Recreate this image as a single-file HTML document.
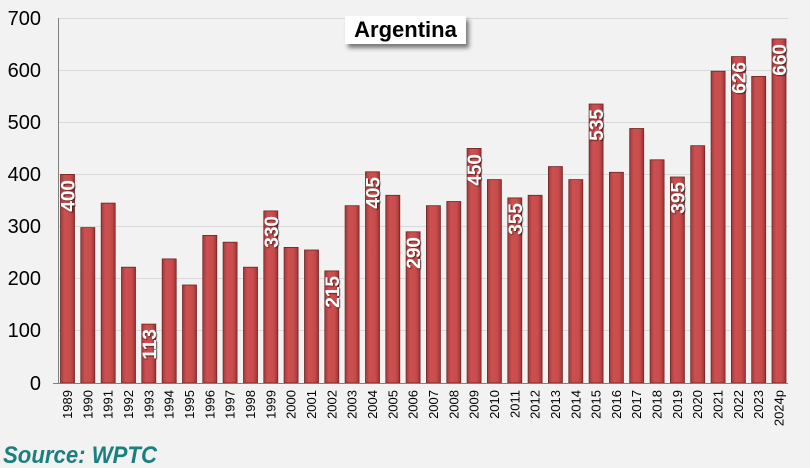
<!DOCTYPE html>
<html><head><style>
html,body{margin:0;padding:0;background:#f2f2f2;}
svg{display:block;font-family:"Liberation Sans",Arial,sans-serif;}
</style></head><body>
<svg width="810" height="468" viewBox="0 0 810 468" xmlns="http://www.w3.org/2000/svg">
<defs>
<linearGradient id="g" x1="0" x2="1" y1="0" y2="0">
<stop offset="0" stop-color="#a63a3a"/><stop offset="0.3" stop-color="#cc5050"/><stop offset="0.7" stop-color="#c84c4c"/><stop offset="1" stop-color="#9c3535"/>
</linearGradient>
<filter id="sh" x="-20%" y="-20%" width="150%" height="160%"><feDropShadow dx="3" dy="4" stdDeviation="2" flood-color="#000" flood-opacity="0.5"/></filter>
<filter id="ts"><feDropShadow dx="1" dy="1" stdDeviation="0.6" flood-color="#000" flood-opacity="0.6"/></filter>
</defs>
<rect width="810" height="468" fill="#f2f2f2"/>
<g stroke="#d9d9d9" stroke-width="1">
<line x1="58" x2="788" y1="18.5" y2="18.5"/><line x1="58" x2="788" y1="70.5" y2="70.5"/><line x1="58" x2="788" y1="122.5" y2="122.5"/><line x1="58" x2="788" y1="174.5" y2="174.5"/><line x1="58" x2="788" y1="226.5" y2="226.5"/><line x1="58" x2="788" y1="278.5" y2="278.5"/><line x1="58" x2="788" y1="330.5" y2="330.5"/>
</g>
<g font-size="20" text-anchor="end" fill="#000">
<text x="41" y="25">700</text><text x="41" y="77">600</text><text x="41" y="129">500</text><text x="41" y="181">400</text><text x="41" y="233">300</text><text x="41" y="285">200</text><text x="41" y="337">100</text><text x="41" y="390">0</text>
</g>
<g fill="url(#g)" stroke="#6e2525" stroke-width="0.8">
<rect x="60.5" y="174.4" width="14" height="208.6"/><rect x="80.8" y="227.6" width="14" height="155.4"/><rect x="101.2" y="203.1" width="14" height="179.9"/><rect x="121.5" y="267.2" width="14" height="115.8"/><rect x="141.8" y="324.1" width="14" height="58.9"/><rect x="162.2" y="258.9" width="14" height="124.1"/><rect x="182.5" y="285" width="14" height="98"/><rect x="202.8" y="235.4" width="14" height="147.6"/><rect x="223.1" y="242.2" width="14" height="140.8"/><rect x="243.5" y="267.2" width="14" height="115.8"/><rect x="263.8" y="210.9" width="14" height="172.1"/><rect x="284.1" y="247.4" width="14" height="135.6"/><rect x="304.5" y="250" width="14" height="133"/><rect x="324.8" y="270.9" width="14" height="112.1"/><rect x="345.1" y="205.7" width="14" height="177.3"/><rect x="365.5" y="171.8" width="14" height="211.2"/><rect x="385.8" y="195.3" width="14" height="187.7"/><rect x="406.1" y="231.8" width="14" height="151.2"/><rect x="426.4" y="205.7" width="14" height="177.3"/><rect x="446.8" y="201.5" width="14" height="181.5"/><rect x="467.1" y="148.4" width="14" height="234.6"/><rect x="487.4" y="179.6" width="14" height="203.4"/><rect x="507.8" y="197.9" width="14" height="185.1"/><rect x="528.1" y="195.3" width="14" height="187.7"/><rect x="548.4" y="166.6" width="14" height="216.4"/><rect x="568.8" y="179.6" width="14" height="203.4"/><rect x="589.1" y="104" width="14" height="279"/><rect x="609.4" y="172.3" width="14" height="210.7"/><rect x="629.7" y="128.5" width="14" height="254.5"/><rect x="650.1" y="159.8" width="14" height="223.2"/><rect x="670.4" y="177" width="14" height="206"/><rect x="690.7" y="145.7" width="14" height="237.3"/><rect x="711.1" y="71.2" width="14" height="311.8"/><rect x="731.4" y="56.6" width="14" height="326.4"/><rect x="751.7" y="76.4" width="14" height="306.6"/><rect x="772" y="38.9" width="14" height="344.1"/>
</g>
<line x1="58.5" x2="58.5" y1="18" y2="383" stroke="#808080"/>
<line x1="53" x2="788" y1="383.5" y2="383.5" stroke="#808080"/>
<g font-size="13" fill="#000" text-anchor="end">
<text transform="translate(72,390) rotate(-90)">1989</text><text transform="translate(92.3,390) rotate(-90)">1990</text><text transform="translate(112.7,390) rotate(-90)">1991</text><text transform="translate(133,390) rotate(-90)">1992</text><text transform="translate(153.3,390) rotate(-90)">1993</text><text transform="translate(173.7,390) rotate(-90)">1994</text><text transform="translate(194,390) rotate(-90)">1995</text><text transform="translate(214.3,390) rotate(-90)">1996</text><text transform="translate(234.6,390) rotate(-90)">1997</text><text transform="translate(255,390) rotate(-90)">1998</text><text transform="translate(275.3,390) rotate(-90)">1999</text><text transform="translate(295.6,390) rotate(-90)">2000</text><text transform="translate(316,390) rotate(-90)">2001</text><text transform="translate(336.3,390) rotate(-90)">2002</text><text transform="translate(356.6,390) rotate(-90)">2003</text><text transform="translate(377,390) rotate(-90)">2004</text><text transform="translate(397.3,390) rotate(-90)">2005</text><text transform="translate(417.6,390) rotate(-90)">2006</text><text transform="translate(437.9,390) rotate(-90)">2007</text><text transform="translate(458.3,390) rotate(-90)">2008</text><text transform="translate(478.6,390) rotate(-90)">2009</text><text transform="translate(498.9,390) rotate(-90)">2010</text><text transform="translate(519.3,390) rotate(-90)">2011</text><text transform="translate(539.6,390) rotate(-90)">2012</text><text transform="translate(559.9,390) rotate(-90)">2013</text><text transform="translate(580.3,390) rotate(-90)">2014</text><text transform="translate(600.6,390) rotate(-90)">2015</text><text transform="translate(620.9,390) rotate(-90)">2016</text><text transform="translate(641.2,390) rotate(-90)">2017</text><text transform="translate(661.6,390) rotate(-90)">2018</text><text transform="translate(681.9,390) rotate(-90)">2019</text><text transform="translate(702.2,390) rotate(-90)">2020</text><text transform="translate(722.6,390) rotate(-90)">2021</text><text transform="translate(742.9,390) rotate(-90)">2022</text><text transform="translate(763.2,390) rotate(-90)">2023</text><text transform="translate(783.5,390) rotate(-90)">2024p</text>
</g>
<g font-size="19" font-weight="bold" fill="#fff" text-anchor="end" filter="url(#ts)">
<text transform="translate(74.5,180) rotate(-90)">400</text>
<text transform="translate(155.8,329) rotate(-90)">113</text>
<text transform="translate(277.8,216) rotate(-90)">330</text>
<text transform="translate(338.8,276) rotate(-90)">215</text>
<text transform="translate(379.5,177) rotate(-90)">405</text>
<text transform="translate(420.1,237) rotate(-90)">290</text>
<text transform="translate(481.1,154) rotate(-90)">450</text>
<text transform="translate(521.8,203) rotate(-90)">355</text>
<text transform="translate(603.1,109) rotate(-90)">535</text>
<text transform="translate(684.4,182) rotate(-90)">395</text>
<text transform="translate(745.4,62) rotate(-90)">626</text>
<text transform="translate(786,44) rotate(-90)">660</text>
</g>
<rect x="345" y="16" width="121" height="28" fill="#fff" filter="url(#sh)"/>
<text x="405.5" y="37" font-size="22" font-weight="bold" text-anchor="middle" fill="#000">Argentina</text>
<text x="3" y="463" font-size="24" font-weight="bold" font-style="italic" fill="#1a7f7f" textLength="154" lengthAdjust="spacingAndGlyphs">Source: WPTC</text>
</svg>
</body></html>
